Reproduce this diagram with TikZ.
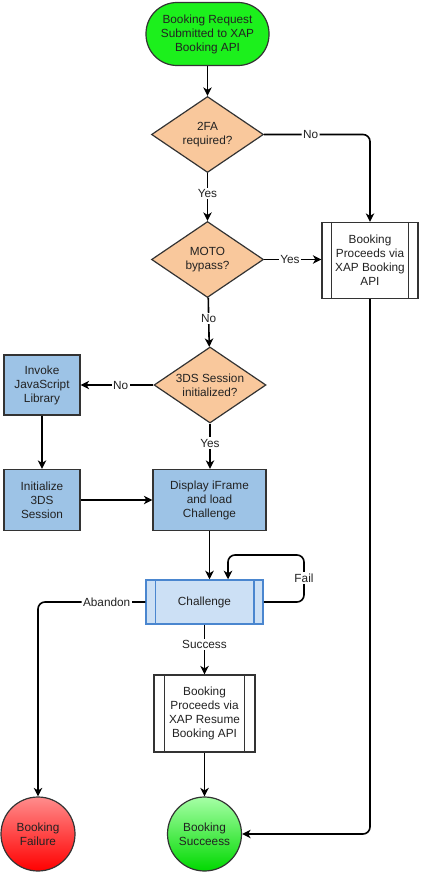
\documentclass[tikz,border=0pt]{standalone}
\usepackage{fontspec}
\setmainfont{Liberation Sans}
\usetikzlibrary{shapes.geometric,arrows.meta}
\definecolor{startg}{HTML}{1CF01C}
\definecolor{dia}{HTML}{F9C89C}
\definecolor{bbox}{HTML}{9DC3E6}
\definecolor{chfill}{HTML}{CCE0F5}
\definecolor{chline}{HTML}{4A86CF}
\definecolor{bord}{HTML}{333333}
\definecolor{txt}{HTML}{222222}
\tikzset{
  base/.style={draw=bord, line width=1.2pt, align=center, text=txt, inner sep=0pt,
    font=\fontsize{11.8}{14}\selectfont},
  startbox/.style={base, fill=startg, rounded corners=31pt, minimum width=123pt, minimum height=63pt},
  decision/.style={base, diamond, fill=dia, minimum width=112pt, minimum height=76pt, aspect=1.47},
  bluebox/.style={base, fill=bbox, minimum height=61pt},
  procbox/.style={base, fill=white, minimum height=76pt},
  chalbox/.style={base, draw=chline, line width=1.5pt, fill=chfill, minimum width=117pt, minimum height=44pt},
  endcircle/.style={base, circle, minimum size=74pt},
  arr/.style={-{Stealth[length=8.5pt,width=8.5pt,inset=2.5pt]}, line width=1.6pt, black},
  lbl/.style={fill=white, inner sep=1.5pt, text=txt, font=\fontsize{11.8}{14}\selectfont},
}
\begin{document}
\begin{tikzpicture}[x=1pt,y=-1pt]
\useasboundingbox (0,0) rectangle (423,874);
\node[startbox] (start) at (207.5,34) {Booking Request\\Submitted to XAP\\Booking API};
\node[decision] (d1) at (207.5,134.5) {2FA\\required?};
\node[decision] (d2) at (207.5,259.5) {MOTO\\bypass?};
\node[procbox, minimum width=96pt] (r1) at (370,260.5) {Booking\\Proceeds via\\XAP Booking\\API};
\node[decision] (d3) at (210,385) {3DS Session\\initialized?};
\node[bluebox, minimum width=76pt, minimum height=60pt] (inv) at (42,385) {Invoke\\JavaScript\\Library};
\node[bluebox, minimum width=76pt] (init) at (42,500) {Initialize\\3DS\\Session};
\node[bluebox, minimum width=113pt] (disp) at (209.5,500) {Display iFrame\\and load\\Challenge};
\node[chalbox] (chal) at (204.5,602) {Challenge};
\node[procbox, minimum width=101pt, minimum height=77pt] (res) at (204.5,713.5) {Booking\\Proceeds via\\XAP Resume\\Booking API};
\node[endcircle, top color=red!45!white, bottom color=red] (fail) at (38,834) {Booking\\Failure};
\node[endcircle, top color=green!35!white, bottom color=green!85!black] (succ) at (204.5,834) {Booking\\Succeess};
% inner bars
\draw[bord, line width=1.2pt] ([xshift=10pt]r1.north west) -- ([xshift=10pt]r1.south west)
  ([xshift=-10pt]r1.north east) -- ([xshift=-10pt]r1.south east);
\draw[bord, line width=1.2pt] ([xshift=11pt]res.north west) -- ([xshift=11pt]res.south west)
  ([xshift=-11pt]res.north east) -- ([xshift=-11pt]res.south east);
\draw[chline, line width=1.5pt] ([xshift=10pt]chal.north west) -- ([xshift=10pt]chal.south west)
  ([xshift=-10pt]chal.north east) -- ([xshift=-10pt]chal.south east);
% connectors
\draw[arr] (start) -- (d1);
\draw[arr, rounded corners=7pt] (d1.east) -| node[lbl, pos=0.22] (l1) {No} (r1.north);
\draw[arr] (d1) -- node[lbl, pos=0.43] (l2) {Yes} (d2);
\draw[arr] (d2.east) -- node[lbl, pos=0.45] (l3) {Yes} (d2.east -| r1.west);
\draw[arr] (d2) -- node[lbl, pos=0.43] (l4) {No} (d3);
\draw[arr] (d3.west) -- node[lbl, pos=0.45] (l5) {No} (inv.east);
\draw[arr] (d3) -- node[lbl, pos=0.43] (l6) {Yes} (disp.north -| d3);
\draw[arr] (inv) -- (init);
\draw[arr] (init) -- (disp);
\draw[arr] (disp.south) -- (disp.south |- chal.north);
\coordinate (fc) at (304,555);
\draw[arr, rounded corners=7pt] (chal.east) -| (fc) -| ([xshift=23.5pt]chal.north);
\node[lbl] (l7) at (304,578) {Fail};
\draw[arr, rounded corners=7pt] (chal.west) -| node[lbl, pos=0.18] (l8) {Abandon} (fail.north);
\draw[arr] (chal) -- node[lbl, pos=0.4] (l9) {Success} (res);
\draw[arr] (res) -- (succ);
\draw[arr, rounded corners=7pt] (r1.south) |- (succ.east);
\end{tikzpicture}
\end{document}
